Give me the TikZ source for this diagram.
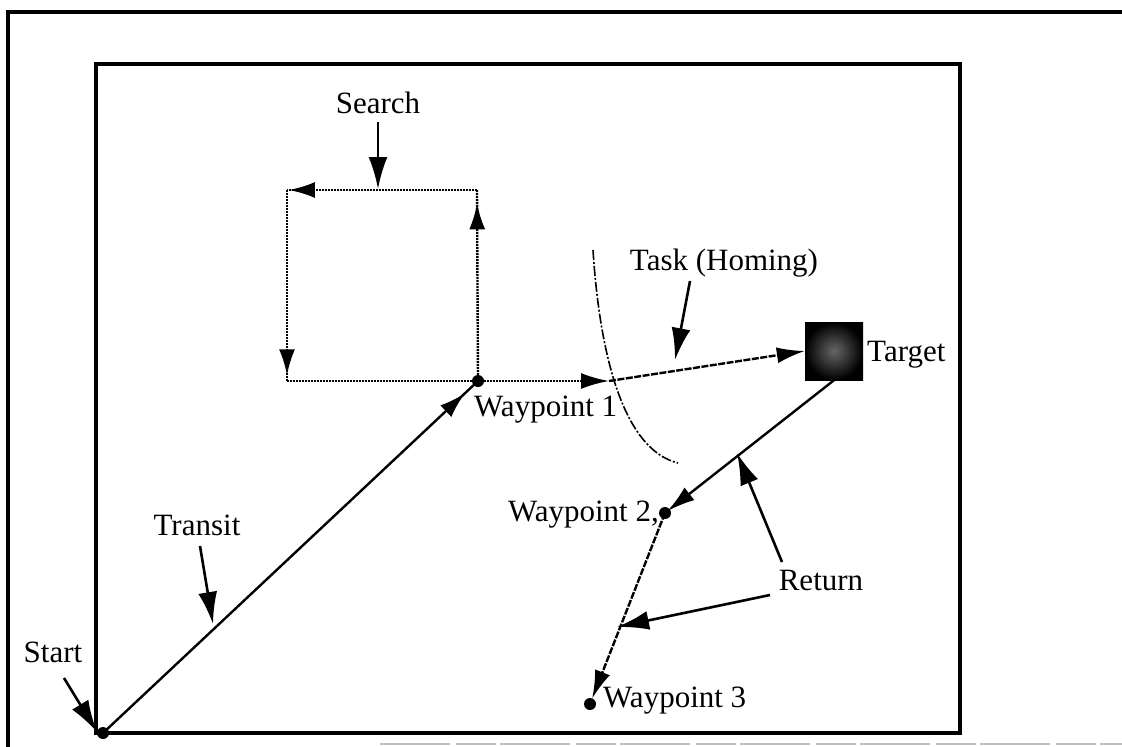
\documentclass[tikz,border=0pt]{standalone}
\usepackage{fontspec}
\setmainfont{Liberation Serif}
\usetikzlibrary{arrows.meta,decorations.markings}
\begin{document}
\begin{tikzpicture}[x=1pt,y=-1pt,
  lbl/.style={font=\fontsize{31}{36}\selectfont, inner sep=0pt},
  frame/.style={line width=3.2pt},
  ptr/.style={line width=2.6pt, -{Latex[length=32pt,width=19pt]}},
  dotpath/.style={line width=2.4pt, dash pattern=on 1.8pt off 1.2pt},
  dashline/.style={line width=2.4pt, dash pattern=on 7pt off 1.5pt},
  arcline/.style={line width=1.6pt, dash pattern=on 10pt off 2pt on 2pt off 2pt},
  solidpath/.style={line width=2.4pt},
  headat/.style={postaction={decorate}, decoration={markings,
      mark=at position #1 with {\arrow{Latex[length=26pt,width=16pt]}}}},
  endhead/.style={-{Latex[length=28pt,width=16pt]}},
  wdot/.style={circle, fill=black, inner sep=0pt, minimum size=12pt}
]
\useasboundingbox (0,0) rectangle (1122,747);
\fill[white] (0,0) rectangle (1122,747);

% frames
\draw[frame] (8,747) -- (8,12) -- (1122,12);
\draw[black!25, line width=1.5pt, dash pattern=on 70pt off 6pt on 40pt off 4pt] (380,744) -- (1122,744);
\draw[frame] (96,64) rectangle (960,733);

% key points
\node[wdot] (start) at (103,733) {};
\node[wdot] (wp1) at (478,381) {};
\node[wdot] (wp2) at (665,513) {};
\node[wdot] (wp3) at (590,704) {};
\coordinate (sTR) at (477,190);
\coordinate (sTL) at (287,190);
\coordinate (sBL) at (287,381);
\coordinate (tstart) at (609,381);
\node[minimum width=58pt, minimum height=58pt, inner sep=0pt, shade, inner color=black!60, outer color=black] (tgt) at (834,351) {};

% search square
\draw[dotpath, headat=0.93] (wp1.center) -- (sTR);
\draw[dotpath, headat=0.99] (sTR) -- (sTL);
\draw[dotpath, headat=0.97] (sTL) -- (sBL);
\draw[dotpath] (sBL) -- (wp1.center);

% transit
\draw[solidpath, headat=0.965] (start.center) -- (wp1.center);

% to task start and homing
\draw[dotpath, endhead] (wp1.center) -- (tstart);
\draw[dashline, endhead] (tstart) -- (tgt.west);

% sensor arc
\draw[arcline] (593,250) .. controls (600,360) and (625,450) .. (678,463);

% return
\draw[solidpath, endhead, shorten >=3pt] (tgt.south) -- (wp2.center);
\draw[dashline, endhead, shorten >=6pt] (wp2.center) -- (wp3.center);

% labels
\node[lbl] (lsearch) at (378,103) {Search};
\node[lbl] (ltask) at (724,263) {Task (Homing)};
\node[lbl, anchor=west] (ltarget) at (867,355) {Target};
\node[lbl, anchor=west] (lwp1) at (474,410) {Waypoint 1};
\node[lbl, anchor=east] (lwp2) at (659,515) {Waypoint 2,};
\node[lbl, anchor=west] (lwp3) at (603,701) {Waypoint 3};
\node[lbl] (lreturn) at (821,580) {Return};
\node[lbl] (ltransit) at (197,525) {Transit};
\node[lbl] (lstart) at (53,652) {Start};

% pointer tips
\coordinate (pSearch) at (378,189);
\coordinate (pTask) at (675,360);
\coordinate (pRet1) at (737,453);
\coordinate (pRet2) at (617,627);
\coordinate (pTransit) at (213,624);
\coordinate (pStart) at (97,732);

\draw[ptr] (378,122) -- (pSearch);
\draw[ptr] (690,281) -- (pTask);
\draw[ptr] (782,562) -- (pRet1);
\draw[ptr] (770,595) -- (pRet2);
\draw[ptr] (200,546) -- (pTransit);
\draw[ptr] (64,678) -- (pStart);
\end{tikzpicture}
\end{document}
